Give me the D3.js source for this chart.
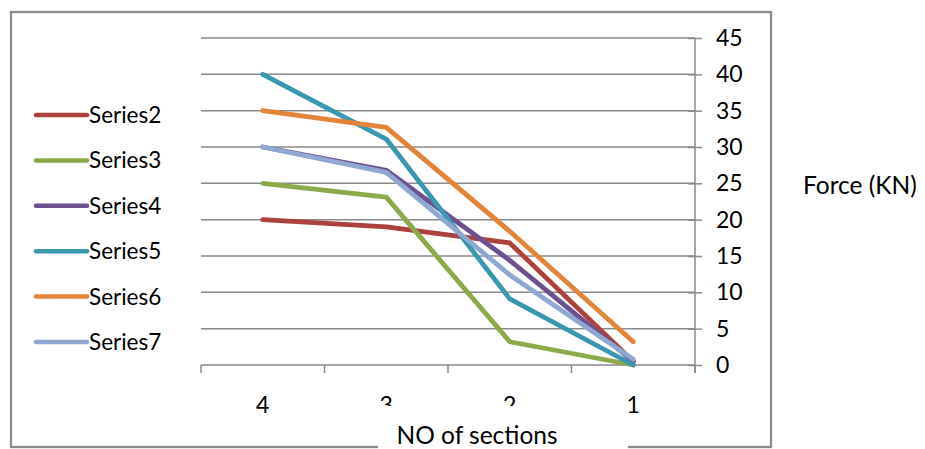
<!DOCTYPE html>
<html>
<head>
<meta charset="utf-8">
<script src="https://cdn.jsdelivr.net/npm/d3@7"></script>
<style>
  html, body { margin: 0; padding: 0; background: #fff; }
  svg { display: block; }
  text { font-family: Lato, "Open Sans", sans-serif; fill: #000; }
</style>
</head>
<body>
<svg id="chart" width="925" height="449"></svg>
<script>
// ---- data ----
const categories = ["4", "3", "2", "1"];
const seriesNames = ["Series2", "Series3", "Series4", "Series5", "Series6", "Series7"];
const series2 = [20, 19, 16.8, 0.5];
const series3 = [25, 23.1, 3.2, 0];
const series4 = [30, 26.8, 14.4, 0.5];
const series5 = [40, 31.1, 9.1, 0];
const series6 = [35, 32.7, 18.4, 3.2];
const series7 = [30, 26.5, 12.4, 0.8];
const yTicks = [0, 5, 10, 15, 20, 25, 30, 35, 40, 45];
const colors = ["#AC413E", "#8BAA4A", "#6C508F", "#3A97B0", "#E2853A", "#8FA8D1"];
const xTitle = "NO of sections";
const yTitle = "Force (KN)";

const allSeries = [series2, series3, series4, series5, series6, series7];

const svg = d3.select("#chart");

// outer border
svg.append("rect")
  .attr("x", 11).attr("y", 12).attr("width", 760).attr("height", 435)
  .attr("fill", "#fff").attr("stroke", "#8c8c8c").attr("stroke-width", 2.3);

const plot = { left: 201, right: 695, top: 38, bottom: 365 };

const x = d3.scaleBand().domain(categories).range([plot.left, plot.right]).padding(0);
const y = d3.scaleLinear().domain([0, 45]).range([plot.bottom, plot.top]);

// gridlines
svg.append("g")
  .selectAll("line").data(yTicks.filter(d => d > 0)).join("line")
  .attr("x1", plot.left).attr("x2", plot.right)
  .attr("y1", d => y(d)).attr("y2", d => y(d))
  .attr("stroke", "#8a8a8a").attr("stroke-width", 1.5);

// y axis on right
const yAxis = d3.axisRight(y).tickValues(yTicks).tickSize(7).tickPadding(14);
const gy = svg.append("g").attr("transform", `translate(${plot.right},0)`).call(yAxis);
gy.select(".domain").remove();
gy.selectAll(".tick line").attr("x1", -7).attr("x2", 7).attr("stroke", "#8a8a8a").attr("stroke-width", 1.5);
gy.selectAll(".tick text").attr("font-size", 23).attr("font-family", "Lato").attr("fill", "#000");
gy.append("line").attr("x1", 0).attr("x2", 0).attr("y1", plot.top).attr("y2", plot.bottom + 8)
  .attr("stroke", "#8a8a8a").attr("stroke-width", 1.5);

// x axis
const gx = svg.append("g").attr("transform", `translate(0,${plot.bottom})`);
gx.append("line").attr("x1", plot.left).attr("x2", plot.right).attr("y1", 0).attr("y2", 0)
  .attr("stroke", "#8a8a8a").attr("stroke-width", 1.5);
const tickXs = categories.map(c => x(c)).concat([x(categories[categories.length - 1]) + x.bandwidth()]);
gx.selectAll("line.t").data(tickXs).join("line").attr("class", "t")
  .attr("x1", d => d).attr("x2", d => d).attr("y1", 0).attr("y2", 8)
  .attr("stroke", "#8a8a8a").attr("stroke-width", 1.5);
gx.selectAll("text").data(categories).join("text")
  .attr("x", d => x(d) + x.bandwidth() / 2).attr("y", 48)
  .attr("text-anchor", "middle").attr("font-size", 23).text(d => d);

// lines
const line = d3.line()
  .x((d, i) => x(categories[i]) + x.bandwidth() / 2)
  .y(d => y(d));
svg.append("g").selectAll("path").data(allSeries).join("path")
  .attr("d", d => line(d))
  .attr("fill", "none")
  .attr("stroke", (d, i) => colors[i])
  .attr("stroke-width", 4.8)
  .attr("stroke-linecap", "round")
  .attr("stroke-linejoin", "round");

// legend
const leg = svg.append("g");
const legItems = leg.selectAll("g").data(seriesNames).join("g")
  .attr("transform", (d, i) => `translate(0,${115 + i * 45.4})`);
legItems.append("line").attr("x1", 36).attr("x2", 87).attr("y1", 0).attr("y2", 0)
  .attr("stroke", (d, i) => colors[i]).attr("stroke-width", 4.5).attr("stroke-linecap", "round");
legItems.append("text").attr("x", 89).attr("y", 8).attr("font-size", 22.5).text(d => d);

// y title
svg.append("text").attr("x", 803).attr("y", 194).attr("font-size", 24.5).text(yTitle);

// x title with white box interrupting border
svg.append("rect").attr("x", 378).attr("y", 406).attr("width", 250).attr("height", 43).attr("fill", "#fff");
svg.append("text").attr("x", 477).attr("y", 444).attr("text-anchor", "middle").attr("font-size", 24.5).text(xTitle);
</script>
</body>
</html>
